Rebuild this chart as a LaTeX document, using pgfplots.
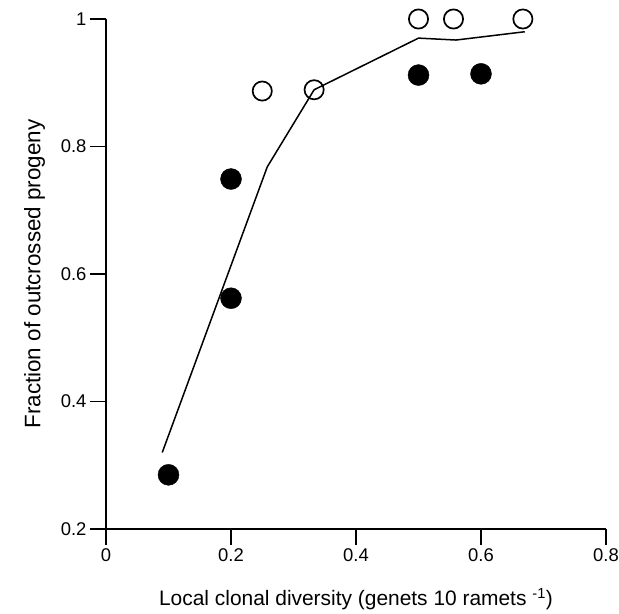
\documentclass[border=0pt]{standalone}
\usepackage{fontspec}
\setmainfont{Liberation Sans}
\usepackage{pgfplots}
\pgfplotsset{compat=1.18}

\begin{document}
\begin{tikzpicture}
  \begin{axis}[
      scale only axis,
      width=500bp, height=510bp,
      xmin=0, xmax=0.8,
      ymin=0.2, ymax=1,
      xtick={0,0.2,0.4,0.6,0.8},
      ytick={0.2,0.4,0.6,0.8,1},
      axis x line=bottom, axis y line=left,
      axis line style={-, line width=1.6bp},
      tick align=outside,
      major tick length=16bp,
      tick style={line width=1.4bp, black},
      minor tick num=0,
      /pgf/number format/assume math mode=true,
      ticklabel style={font=\fontsize{18.5}{22}\selectfont},
      xlabel={Local clonal diversity (genets 10 ramets \textsuperscript{-1})},
      ylabel={Fraction of outcrossed progeny},
      xlabel style={font=\fontsize{21}{25}\selectfont, yshift=-20bp},
      ylabel style={font=\fontsize{22.5}{26}\selectfont, yshift=9bp},
      clip=false,
    ]
    % fitted curve
    \addplot[black, line width=1.5bp] coordinates {
      (0.09,0.32) (0.258,0.768) (0.333,0.889) (0.5,0.970) (0.56,0.967) (0.67,0.980)
    };
    % filled circles
    \addplot[only marks, mark=*, mark size=10.5bp, black] coordinates {
      (0.10,0.285) (0.20,0.749) (0.20,0.562) (0.50,0.912) (0.60,0.914)
    };
    % open circles
    \addplot[only marks, mark=o, mark size=9.6bp, black, line width=1.7bp] coordinates {
      (0.25,0.887) (0.333,0.889) (0.50,1.0) (0.556,1.0) (0.667,1.0)
    };
    \coordinate (sw) at (rel axis cs:0,0);
    \coordinate (ne) at (rel axis cs:1,1);
  \end{axis}
  \pgfresetboundingbox
  \path ([shift={(-106bp,-85bp)}]sw) rectangle ([shift={(13bp,19bp)}]ne);
\end{tikzpicture}
\end{document}
